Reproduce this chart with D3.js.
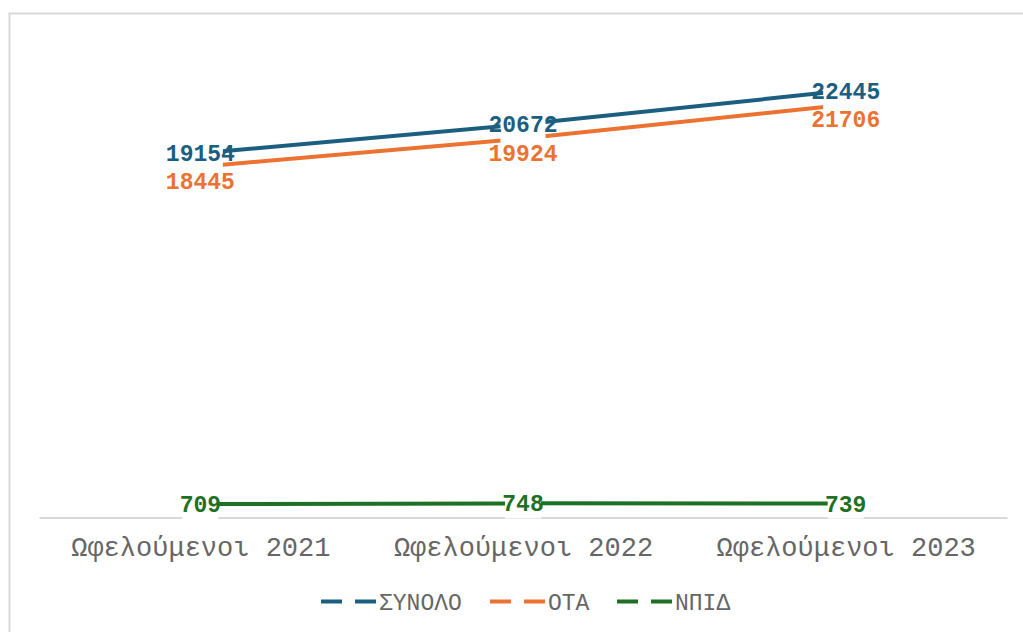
<!DOCTYPE html>
<html>
<head>
<meta charset="utf-8">
<script src="https://cdn.jsdelivr.net/npm/d3@7"></script>
<style>
  body { margin: 0; background: #fff; }
  svg { display: block; }
</style>
</head>
<body>
<svg id="chart" width="1023" height="632"></svg>
<script>
// data
const categories = ['Ωφελούμενοι 2021', 'Ωφελούμενοι 2022', 'Ωφελούμενοι 2023'];
const seriesNames = ['ΣΥΝΟΛΟ', 'ΟΤΑ', 'ΝΠΙΔ'];
const totalValues = [19154, 20672, 22445];
const otaValues = [18445, 19924, 21706];
const npidValues = [709, 748, 739];
const seriesColors = ['#1b5e7f', '#ec7232', '#1d7024'];

const series = [
  { name: seriesNames[0], values: totalValues, color: seriesColors[0], labelDy: 0 },
  { name: seriesNames[1], values: otaValues, color: seriesColors[1], labelDy: 14 },
  { name: seriesNames[2], values: npidValues, color: seriesColors[2], labelDy: 0 }
];

const svg = d3.select('#chart');

// chart frame (runs off the right and bottom edge like the original)
svg.append('rect')
  .attr('x', 9.5).attr('y', 13.5)
  .attr('width', 1100).attr('height', 700)
  .attr('fill', 'none')
  .attr('stroke', '#d9d9d9')
  .attr('stroke-width', 2);

const x = d3.scalePoint()
  .domain(categories)
  .range([39, 1007])
  .padding(0.5);

const y = d3.scaleLinear()
  .domain([0, 25000])
  .range([517.6, 42]);

// category axis
const xAxis = svg.append('g')
  .attr('transform', `translate(0,${y(0)})`)
  .call(d3.axisBottom(x).tickSize(0).tickPadding(19));
xAxis.select('.domain')
  .attr('stroke', '#d9d9d9')
  .attr('stroke-width', 2);
xAxis.selectAll('text')
  .attr('fill', '#666666')
  .style('font-family', '"Liberation Mono", "DejaVu Sans Mono", monospace')
  .style('font-size', '27px');

const line = d3.line()
  .x((d, i) => x(categories[i]))
  .y(d => y(d));

const lineGroup = svg.append('g').attr('class', 'lines');
lineGroup.selectAll('path')
  .data(series)
  .join('path')
  .attr('d', d => line(d.values))
  .attr('fill', 'none')
  .attr('stroke', d => d.color)
  .attr('stroke-width', 4)
  .attr('stroke-linecap', 'butt');

// data labels with a white box behind them
const labelData = series.flatMap(s => s.values.map((v, i) => ({
  value: v, cat: categories[i], color: s.color, dy: s.labelDy
})));

const labels = svg.append('g').attr('class', 'labels')
  .selectAll('g')
  .data(labelData)
  .join('g')
  .attr('transform', d => `translate(${x(d.cat)},${y(d.value) + d.dy})`);

labels.append('rect')
  .attr('x', d => -(String(d.value).length * 4.5 + 22.5) / 2)
  .attr('y', -15)
  .attr('width', d => String(d.value).length * 4.5 + 22.5)
  .attr('height', 30)
  .attr('fill', '#fff');

labels.append('text')
  .text(d => d.value)
  .attr('text-anchor', 'middle')
  .attr('dy', '0.35em')
  .attr('fill', d => d.color)
  .style('font-family', '"Liberation Mono", "DejaVu Sans Mono", monospace')
  .style('font-weight', '700')
  .style('font-size', '23px');

// legend
const legendX = [321, 490, 617];
const legend = svg.append('g').attr('class', 'legend')
  .selectAll('g')
  .data(series)
  .join('g')
  .attr('transform', (d, i) => `translate(${legendX[i]},601.5)`);

legend.append('line')
  .attr('x1', 0).attr('x2', 55)
  .attr('stroke', d => d.color)
  .attr('stroke-width', 4)
  .attr('stroke-dasharray', '21,13');

legend.append('text')
  .text(d => d.name)
  .attr('x', 58)
  .attr('dy', '0.36em')
  .attr('fill', '#666666')
  .style('font-family', '"Liberation Mono", "DejaVu Sans Mono", monospace')
  .style('font-size', '23px');
</script>
</body>
</html>
